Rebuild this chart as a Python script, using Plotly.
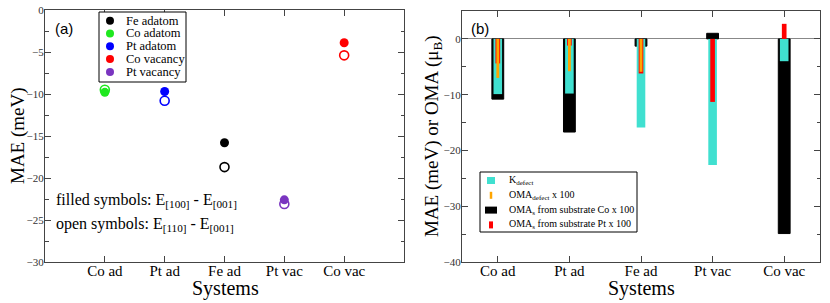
import plotly.graph_objects as go

# ---------------- data ----------------
categories = ["Co ad", "Pt ad", "Fe ad", "Pt vac", "Co vac"]

# panel (a): MAE per defect system (meV)
series_names = ["Fe adatom", "Co adatom", "Pt adatom", "Co vacancy", "Pt vacancy"]
series_category = ["Fe ad", "Co ad", "Pt ad", "Co vac", "Pt vac"]
series_colors = ["#000000", "#1ee81e", "#0000ff", "#ff0000", "#7a35c0"]
mae_100_001 = [-15.8, -9.8, -9.7, -3.9, -22.6]   # filled symbols
mae_110_001 = [-18.7, -9.5, -10.8, -5.4, -23.1]  # open symbols

# panel (b): bars
bar_names = ["K<sub>defect</sub>", "OMA<sub>defect</sub> x 100",
             "OMA<sub>s</sub> from substrate Co x 100", "OMA<sub>s</sub> from substrate Pt x 100"]
bar_colors = ["#40e0d0", "#ffa500", "#000000", "#ff0000"]
k_defect = [-9.9, -9.8, -15.9, -22.6, -4.0]
oma_defect_x100 = [-7.0, -5.8, -5.9, None, None]
oma_s_co_x100 = [-10.8, -16.7, -1.3, 1.0, -34.9]
oma_s_pt_x100 = [-4.4, -1.2, -6.2, -11.3, 2.7]

SERIF = "Liberation Serif, Times New Roman, serif"
SANS = "Liberation Sans, Arial, sans-serif"
AX = "#444444"
W, H = 830, 303

fig = go.Figure()

# ---- panel (a) ----
for name, cat, col, yf, yo in zip(series_names, series_category, series_colors,
                                  mae_100_001, mae_110_001):
    fig.add_trace(go.Scatter(
        x=[cat], y=[yo], mode="markers", xaxis="x", yaxis="y",
        marker=dict(symbol="circle-open", size=9, color=col, line=dict(width=1.6, color=col)),
        showlegend=False, hoverinfo="skip"))
    fig.add_trace(go.Scatter(
        x=[cat], y=[yf], mode="markers", name=name, xaxis="x", yaxis="y",
        marker=dict(symbol="circle", size=9, color=col), showlegend=False))

# ---- panel (b) ----
fig.add_trace(go.Bar(x=categories, y=oma_s_co_x100, width=0.165, xaxis="x2", yaxis="y2",
                     marker=dict(color=bar_colors[2], line=dict(color="#000000", width=1)),
                     name=bar_names[2], showlegend=False))
fig.add_trace(go.Bar(x=categories, y=k_defect, width=0.12, xaxis="x2", yaxis="y2",
                     marker=dict(color=bar_colors[0], line=dict(width=0)),
                     name=bar_names[0], showlegend=False))
fig.add_trace(go.Bar(x=categories, y=oma_s_pt_x100, width=0.065, xaxis="x2", yaxis="y2",
                     marker=dict(color=bar_colors[3], line=dict(width=0)),
                     name=bar_names[3], showlegend=False))
fig.add_trace(go.Bar(x=categories, y=oma_defect_x100, width=0.04, xaxis="x2", yaxis="y2",
                     marker=dict(color=bar_colors[1], line=dict(width=0)),
                     name=bar_names[1], showlegend=False))

common_x = dict(type="category", categoryorder="array", categoryarray=categories,
                showline=True, linecolor=AX, linewidth=1, mirror="ticks", automargin=False,
                ticks="inside", ticklen=6, tickcolor=AX, showgrid=False, zeroline=False,
                ticklabelstandoff=-5,
                tickfont=dict(family=SERIF, size=15, color="#000"))
common_y = dict(showline=True, linecolor=AX, linewidth=1, mirror="ticks", automargin=False,
                ticks="inside", ticklen=6, tickcolor=AX, showgrid=False,
                ticklabelstandoff=-2,
                tickfont=dict(family=SERIF, size=11, color="#333"))

fig.update_layout(
    width=W, height=H,
    margin=dict(l=0, r=0, t=0, b=0, autoexpand=False),
    paper_bgcolor="white", plot_bgcolor="white",
    barmode="overlay", showlegend=False,
    xaxis=dict(domain=[45/W, 404/W], range=[-1, 5], anchor="y", **common_x),
    yaxis=dict(domain=[1-262/H, 1-10/H], range=[-30, 0], dtick=5, anchor="x",
               zeroline=False,
               minor=dict(dtick=2.5, ticks="inside", ticklen=3.5, tickcolor=AX),
               **common_y),
    xaxis2=dict(domain=[462/W, 820/W], range=[-0.5, 4.5], anchor="y2", **common_x),
    yaxis2=dict(domain=[1-262/H, 1-11/H], range=[-40, 5], tick0=0, dtick=10, anchor="x2",
                zeroline=True, zerolinecolor="#888888", zerolinewidth=1,
                minor=dict(dtick=5, ticks="inside", ticklen=3.5, tickcolor=AX),
                **common_y),
)

def px(x):
    return x / W

def py(y):
    return 1 - y / H

ann = [
    dict(text="(a)", x=px(53), y=py(28), xanchor="left", yanchor="middle",
         font=dict(family=SANS, size=15, color="#000")),
    dict(text="(b)", x=px(469), y=py(28), xanchor="left", yanchor="middle",
         font=dict(family=SANS, size=15, color="#000")),
    dict(text="filled symbols: E<sub>[100]</sub> - E<sub>[001]</sub>", x=px(54), y=py(200),
         xanchor="left", yanchor="middle", font=dict(family=SERIF, size=16, color="#000")),
    dict(text="open symbols: E<sub>[110]</sub> - E<sub>[001]</sub>", x=px(54), y=py(224),
         xanchor="left", yanchor="middle", font=dict(family=SERIF, size=16, color="#000")),
    dict(text="MAE (meV)", x=px(18), y=py(136), textangle=-90, xanchor="center", yanchor="middle",
         font=dict(family=SERIF, size=19, color="#000")),
    dict(text="MAE (meV) or OMA (μ<sub>B</sub>)", x=px(433), y=py(136), textangle=-90,
         xanchor="center", yanchor="middle", font=dict(family=SERIF, size=19, color="#000")),
    dict(text="Systems", x=px(225), y=py(288), xanchor="center", yanchor="middle",
         font=dict(family=SERIF, size=20, color="#000")),
    dict(text="Systems", x=px(641), y=py(288), xanchor="center", yanchor="middle",
         font=dict(family=SERIF, size=20, color="#000")),
]

shapes = []
# legend (a): box, circle symbols, labels
shapes.append(dict(type="rect", xref="paper", yref="paper", x0=px(99), x1=px(186),
                   y0=py(82), y1=py(12), line=dict(color="#000", width=1), fillcolor="white",
                   layer="above"))
for i, (name, col) in enumerate(zip(series_names, series_colors)):
    cy = 20.7 + i * 12.8
    shapes.append(dict(type="circle", xref="paper", yref="paper",
                       x0=px(106), x1=px(114), y0=py(cy + 4), y1=py(cy - 4),
                       fillcolor=col, line=dict(color=col, width=0), layer="above"))
    ann.append(dict(text=name, x=px(124), y=py(cy), xanchor="left", yanchor="middle",
                    font=dict(family=SERIF, size=12.5, color="#000")))

# legend (b)
shapes.append(dict(type="rect", xref="paper", yref="paper", x0=px(480), x1=px(637),
                   y0=py(232), y1=py(172), line=dict(color="#000", width=1), fillcolor="white",
                   layer="above"))
sym_w = [8, 2.5, 12, 4]
for i, (name, col, sw) in enumerate(zip(bar_names, bar_colors, sym_w)):
    cy = 180.5 + i * 14.8
    cx = 491
    shapes.append(dict(type="rect", xref="paper", yref="paper",
                       x0=px(cx - sw / 2), x1=px(cx + sw / 2), y0=py(cy + 3.5), y1=py(cy - 3.5),
                       fillcolor=col, line=dict(width=0), layer="above"))
    ann.append(dict(text=name, x=px(507), y=py(cy), xanchor="left", yanchor="middle",
                    font=dict(family=SERIF, size=10, color="#000")))

for a in ann:
    a.update(xref="paper", yref="paper", showarrow=False)
fig.update_layout(annotations=ann, shapes=shapes)

fig.write_html("out.html", config={"displayModeBar": False},
               post_script="document.body.style.margin='0px';")
